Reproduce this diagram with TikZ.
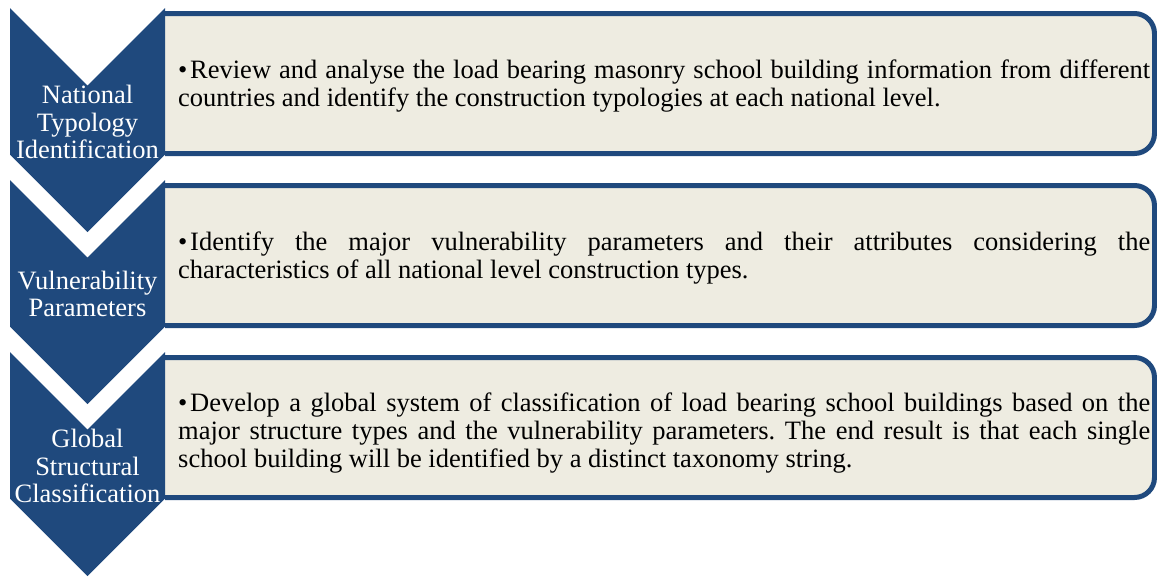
\documentclass[tikz,border=0pt]{standalone}
\usepackage{fontspec}
\setmainfont{Liberation Serif}
\frenchspacing

\definecolor{chevblue}{HTML}{1F497D}
\definecolor{boxfill}{HTML}{EEECE1}

\begin{document}
\begin{tikzpicture}[x=1pt,y=-1pt,
  chevron/.style={fill=chevblue},
  box/.style={draw=chevblue,line width=5pt,fill=boxfill,rounded corners=20pt},
  chev text/.style={text=white,align=center,inner sep=0pt,font=\fontsize{26.5}{27.5}\selectfont},
  box text/.style={anchor=west,text width=972pt,align=justify,inner sep=0pt,font=\fontsize{26.5}{28}\selectfont}]
\useasboundingbox (0,0) rectangle (1157,576);

% boxes on the right, left side hidden by the chevrons
\begin{scope}
  \clip (165,0) rectangle (1157,576);
  \draw[box] (130,13.5) rectangle (1154.5,153.5);
  \draw[box] (130,185.5) rectangle (1154.5,325.5);
  \draw[box] (130,357.5) rectangle (1154.5,497.5);
\end{scope}

% chevrons
\fill[chevron] (10,8) -- (87.5,85.5) -- (165,8) -- (165,154.5) -- (87.5,232) -- (10,154.5) -- cycle;
\fill[chevron] (10,180) -- (87.5,257.5) -- (165,180) -- (165,326.5) -- (87.5,404) -- (10,326.5) -- cycle;
\fill[chevron] (10,352) -- (87.5,429.5) -- (165,352) -- (165,498.5) -- (87.5,576) -- (10,498.5) -- cycle;

\node[chev text] (nti) at (87.5,122) {National\\Typology\\Identification};
\node[chev text] (vp) at (87.5,294) {Vulnerability\\Parameters};
\node[chev text] (gsc) at (87.5,466) {Global\\Structural\\Classification};

\node[box text] (ntitext) at (178,86) {\noindent\hangindent=12pt\hangafter=1\makebox[12pt][l]{•}Review and analyse the load bearing masonry school building information from different \linebreak countries and identify the construction typologies at each national level.};
\node[box text] (vptext) at (178,258) {\noindent\hangindent=12pt\hangafter=1\makebox[12pt][l]{•}Identify the major vulnerability parameters and their attributes considering the \linebreak characteristics of all national level construction types.};
\node[box text] (gsctext) at (178,433) {\noindent\hangindent=12pt\hangafter=1\makebox[12pt][l]{•}Develop a global system of classification of load bearing school buildings based on the \linebreak major structure types and the vulnerability parameters. The end result is that each single \linebreak school building will be identified by a distinct taxonomy string.};
\end{tikzpicture}
\end{document}
